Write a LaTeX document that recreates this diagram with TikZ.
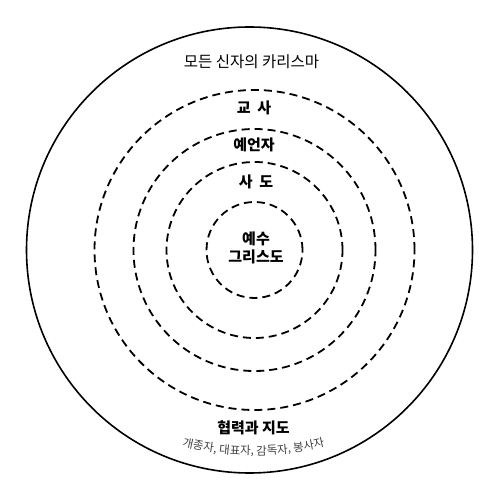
\documentclass[tikz,border=0pt]{standalone}
\usepackage{fontspec}
\setmainfont{Noto Sans CJK KR}
\usepackage{tikz}
\usetikzlibrary{calc,decorations.text}

\begin{document}
\begin{tikzpicture}[x=1pt,y=1pt,
    ring/.style={line width=1.8pt,dash pattern=on 8pt off 5pt},
    lbl/.style={font=\bfseries\fontsize{15}{18}\selectfont,align=center}]
    \useasboundingbox(0,0)rectangle(500,495);
    \coordinate(O) at (249.5,245);
    \coordinate(C) at (254.5,245);
    \draw[line width=1.6pt](O)circle(223);
    \draw[ring](C)circle(160);
    \draw[ring](C)circle(121);
    \draw[ring](C)circle(88);
    \draw[ring](C)circle(48);
    \node[font=\fontsize{15.5}{18}\selectfont](all) at (251.5,433){모든 신자의 카리스마};
    \node[lbl](teacher) at (254,387){교\ \ 사};
    \node[lbl](prophet) at (254,350){예언자};
    \node[lbl](apostle) at (256,313){사\ \ 도};
    \node[lbl](jesus) at (256,247){예수\\그리스도};
    \node[lbl](lead) at (253.5,67){협력과 지도};
    \path[decorate,decoration={text along path,text align=center,
        text={|\fontsize{11.5}{13}\selectfont\color{black!75}|개종자, 대표자, 감독자, 봉사자}}]
        (253.5,340)++(240:300)arc(240:300:300);
  \end{tikzpicture}
\end{document}
